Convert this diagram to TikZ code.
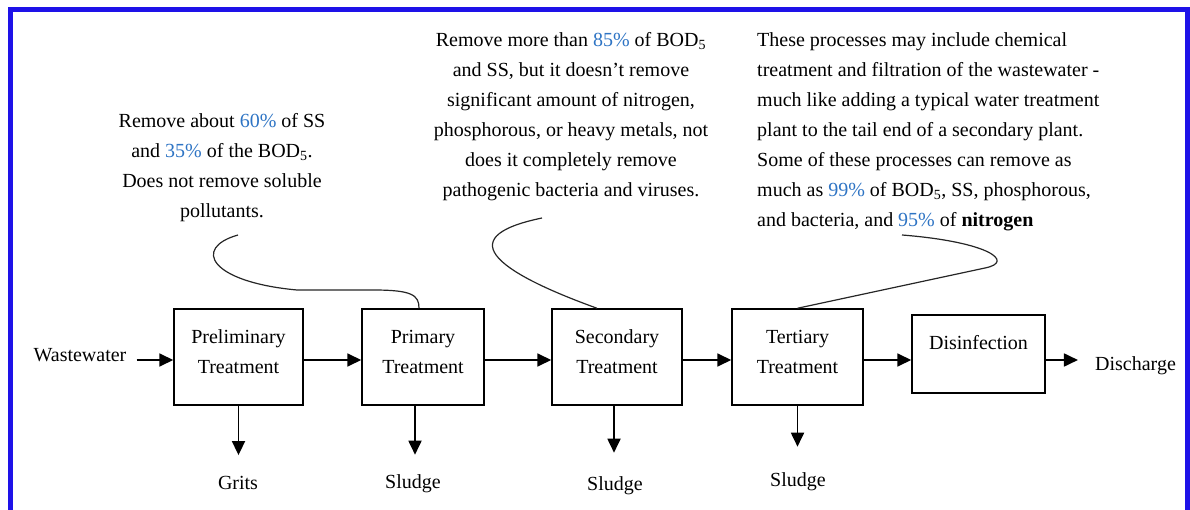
\documentclass[tikz,border=0pt]{standalone}
\usepackage{fontspec}
\setmainfont{Liberation Serif}
\usepackage{tikz}
\definecolor{frameblue}{RGB}{30, 18, 232}
\definecolor{pctblue}{RGB}{46, 116, 196}
\usetikzlibrary{arrows.meta}
\newcommand{\pcnt}[1]{\textcolor{pctblue}{#1}}

\begin{document}
\begin{tikzpicture}[every node/.style={inner sep=0pt, font=\fontsize{20pt}{30pt}\selectfont},
procbox/.style={draw=black, line width=1.5pt, minimum height=96pt, align=center, text depth=10pt},
flow/.style={line width=1.8pt, -{Triangle[length=14pt, width=13pt]}},
callout/.style={line width=1.2pt, color=black!85}]
\useasboundingbox (0pt, 0pt) rectangle (1190pt, -510pt);
\draw [line width=5.5pt, color=frameblue] (10.7pt, -515pt) -- (10.7pt, -9.7pt) -- (1187.5pt, -9.7pt) -- (1187.5pt, -515pt);
% notes above the line
\node (n1) [anchor=north, align=center] at (222pt, -113.5pt) {Remove about \pcnt{60\%} of SS\\and \pcnt{35\%} of the BOD\textsubscript{5}.\\Does not remove soluble\\pollutants.};
\node (n2) [anchor=north, align=center] at (571pt, -32.5pt) {Remove more than \pcnt{85\%} of BOD\textsubscript{5}\\and SS, but it doesn’t remove\\significant amount of nitrogen,\\phosphorous, or heavy metals, not\\does it completely remove\\pathogenic bacteria and viruses.};
\node (n3) [anchor=north west, align=left] at (757pt, -32.5pt) {These processes may include chemical\\treatment and filtration of the wastewater -\\much like adding a typical water treatment\\plant to the tail end of a secondary plant.\\Some of these processes can remove as\\much as \pcnt{99\%} of BOD\textsubscript{5}, SS, phosphorous,\\and bacteria, and \pcnt{95\%} of \textbf{nitrogen}};
% process line
\node (pre) [procbox, minimum width=129pt] at (238.5pt, -357pt) {Preliminary\\Treatment};
\node (pri) [procbox, minimum width=122pt] at (423pt, -357pt) {Primary\\Treatment};
\node (sec) [procbox, minimum width=130pt] at (617pt, -357pt) {Secondary\\Treatment};
\node (ter) [procbox, minimum width=131pt] at (797.5pt, -357pt) {Tertiary\\Treatment};
\node (dis) [procbox, minimum width=133pt, minimum height=78pt, text height=14pt, text depth=24pt] at (978.5pt, -354pt) {Disinfection};
\node (ww) at (80pt, -355pt) {Wastewater};
\node (dc) at (1135.5pt, -366pt) {Discharge};
\node (grits) at (238pt, -483pt) {Grits};
\node (sl1) at (413pt, -484pt) {Sludge};
\node (sl2) at (615pt, -486pt) {Sludge};
\node (sl3) at (798pt, -482pt) {Sludge};
\coordinate (c1) at (238pt, -235pt);
\coordinate (c2) at (542pt, -218pt);
\coordinate (c3) at (902pt, -235pt);
\draw [flow, shorten <=10pt] ([yshift=-3pt]ww.east |- pre.west) -- ([yshift=-3pt]pre.west);
\draw [flow] ([yshift=-3pt]pre.east) -- ([yshift=-3pt]pri.west);
\draw [flow] ([yshift=-3pt]pri.east) -- ([yshift=-3pt]sec.west);
\draw [flow] ([yshift=-3pt]sec.east) -- ([yshift=-3pt]ter.west);
\draw [flow] ([yshift=-3pt]ter.east) -- ([yshift=-3pt]ter.east -| dis.west);
\draw [flow, shorten >=17pt] ([yshift=-3pt]dis.east |- ter.east) -- ([yshift=-3pt]dc.west |- ter.east);
\draw [flow, shorten >=21pt] (pre.south) -- (pre.south |- grits.north);
\draw [flow, shorten >=20pt] ([xshift=-8pt]pri.south) -- ([xshift=-8pt]pri.south |- sl1.north);
\draw [flow, shorten >=24pt] ([xshift=-3pt]sec.south) -- ([xshift=-3pt]sec.south |- sl2.north);
\draw [flow, shorten >=26pt] (ter.south) -- (ter.south |- sl3.north);
% callouts
\draw [callout] (c1) .. controls (192pt, -248pt) and (210pt, -282pt) .. (297pt, -290pt) -- (373pt, -290pt) .. controls (412pt, -290pt) and (419pt, -295pt) .. ([xshift=-4pt]pri.north);
\draw [callout] (c2) .. controls (445pt, -238pt) and (505pt, -275pt) .. ([xshift=-20pt]sec.north);
\draw [callout] (c3) .. controls (990pt, -242pt) and (1015pt, -262pt) .. (985pt, -268pt) -- (ter.north);
\end{tikzpicture}
\end{document}
